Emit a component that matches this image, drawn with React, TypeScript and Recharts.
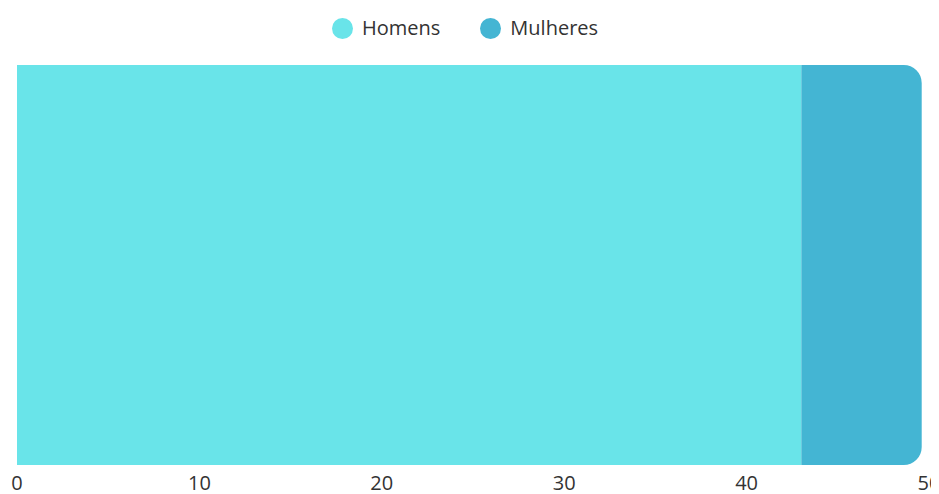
import React from "react";
import { BarChart, Bar, XAxis, YAxis } from "recharts";

const categories = ["Total"];
const homens = [43];
const mulheres = [6.6];
const xTicks = [0, 10, 20, 30, 40, 50];
const seriesNames = ["Homens", "Mulheres"];
const colors = ["#69E4E9", "#44B5D3"];

const data = categories.map((c, i) => ({ name: c, Homens: homens[i], Mulheres: mulheres[i] }));

const FONT = "'Open Sans', sans-serif";

export default function App() {
  return (
    <div style={{ position: "relative", width: 931, height: 486, fontFamily: FONT }}>
      <div
        style={{
          position: "absolute",
          left: 324,
          top: 9,
          display: "flex",
          alignItems: "center",
          fontSize: 20,
          color: "#333",
          lineHeight: "22px",
        }}
      >
        {seriesNames.map((n, i) => (
          <div key={n} style={{ display: "flex", alignItems: "center", marginRight: i === 0 ? 40 : 0 }}>
            <span
              style={{
                display: "inline-block",
                width: 21,
                height: 21,
                borderRadius: "50%",
                background: colors[i],
                marginRight: 9,
              }}
            />
            <span>{n}</span>
          </div>
        ))}
      </div>
      <BarChart
        width={931}
        height={486}
        data={data}
        layout="vertical"
        margin={{ top: 57, right: 10, left: 9, bottom: 0 }}
        barCategoryGap={0}
      >
        <XAxis
          type="number"
          domain={[0, 50]}
          ticks={xTicks}
          axisLine={false}
          tickLine={false}
          height={29}
          tickMargin={5}
          tick={{ fill: "#333", fontSize: 20, fontFamily: FONT }}
          interval={0}
        />
        <YAxis type="category" dataKey="name" hide />
        <Bar dataKey="Homens" stackId="a" fill={colors[0]} isAnimationActive={false} />
        <Bar dataKey="Mulheres" stackId="a" fill={colors[1]} radius={[0, 18, 18, 0]} isAnimationActive={false} />
      </BarChart>
    </div>
  );
}
